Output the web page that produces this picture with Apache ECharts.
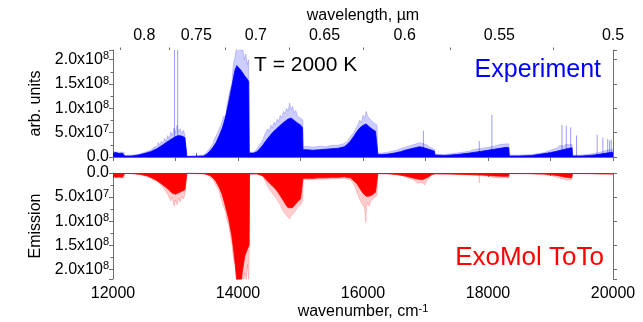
<!DOCTYPE html>
<html>
<head>
<meta charset="utf-8">
<script src="https://cdn.jsdelivr.net/npm/echarts@6/dist/echarts.min.js"></script>
<style>
  html, body { margin: 0; padding: 0; background: #fff; }
  #chart { width: 643px; height: 322px; }
</style>
</head>
<body>
<div id="chart"></div>
<script>
// all intensities in units of 1e6 (arb. units)
// experiment: solid part of the band envelope [wavenumber, value]
const expCore = [[12000,8],[12050,9],[12100,7],[12150,8],[12178,7],[12185,2],[12300,2],[12400,4],[12500,7],[12600,11],[12700,17],[12800,25],[12850,30],[12900,34],[12950,38],[13000,42],[13050,44],[13100,43],[13150,40],[13176,38],[13182,1],[13300,1],[13450,2],[13500,6],[13550,12],[13600,20],[13650,30],[13700,44],[13750,60],[13800,82],[13850,112],[13900,145],[13950,178],[13980,188],[14000,186],[14050,178],[14100,168],[14150,160],[14172,155],[14180,8],[14250,8],[14300,11],[14350,17],[14400,25],[14450,34],[14500,42],[14550,50],[14600,56],[14650,62],[14700,68],[14750,73],[14800,78],[14850,80],[14900,75],[14950,70],[15000,66],[15032,60],[15040,15],[15100,15],[15200,14],[15300,15],[15400,16],[15500,17],[15600,18],[15700,21],[15750,26],[15800,33],[15850,42],[15900,52],[15950,60],[16000,65],[16050,68],[16100,62],[16150,57],[16200,53],[16230,50],[16238,5],[16300,5],[16400,6],[16500,8],[16600,11],[16700,15],[16800,18],[16900,21],[16950,20],[17000,18],[17100,14],[17142,12],[17150,4],[17300,3],[17500,5],[17700,8],[17800,10],[17900,12],[18000,14],[18100,16],[18200,18],[18300,20],[18333,19],[18340,2],[18500,2],[18700,3],[18800,5],[18900,7],[19000,9],[19100,12],[19200,15],[19300,18],[19345,19],[19352,2],[19500,2],[19700,4],[19800,6],[19900,8],[20000,10]];
// experiment: upper fringe of the unresolved lines
const expPeak = [[12000,11],[12100,10],[12178,10],[12185,3],[12400,5],[12600,14],[12650,20],[12700,22],[12725,30],[12750,24],[12775,33],[12800,28],[12825,38],[12850,32],[12875,44],[12900,38],[12925,52],[12950,44],[12975,60],[13000,50],[13025,66],[13050,52],[13075,58],[13100,48],[13125,55],[13150,46],[13175,50],[13182,2],[13450,4],[13500,10],[13550,18],[13600,28],[13625,38],[13650,34],[13675,50],[13700,48],[13725,66],[13750,62],[13775,85],[13800,80],[13825,108],[13850,104],[13875,140],[13900,150],[13925,190],[13950,205],[13975,225],[14000,225],[14025,225],[14050,218],[14075,225],[14100,200],[14125,212],[14150,190],[14170,200],[14180,10],[14250,10],[14300,16],[14350,26],[14400,36],[14425,46],[14450,42],[14475,58],[14500,52],[14525,66],[14550,60],[14575,72],[14600,66],[14625,78],[14650,72],[14675,86],[14700,80],[14725,94],[14750,88],[14775,100],[14800,94],[14825,111],[14850,98],[14875,104],[14900,90],[14925,96],[14950,84],[14975,88],[15000,80],[15025,84],[15038,76],[15042,20],[15100,22],[15200,20],[15300,22],[15400,21],[15500,24],[15600,24],[15700,28],[15750,32],[15800,42],[15825,38],[15850,50],[15875,46],[15900,62],[15925,58],[15950,76],[15975,70],[16000,86],[16025,80],[16050,94],[16075,84],[16100,86],[16125,76],[16150,80],[16175,70],[16200,74],[16225,66],[16236,8],[16300,8],[16400,10],[16500,13],[16600,17],[16700,21],[16800,25],[16850,27],[16900,30],[16950,28],[17000,26],[17050,22],[17100,18],[17145,16],[17150,6],[17300,5],[17500,8],[17700,12],[17800,16],[17900,18],[18000,20],[18100,22],[18200,26],[18300,27],[18333,27],[18340,4],[18500,4],[18700,5],[18900,9],[19000,14],[19100,18],[19150,24],[19200,22],[19250,26],[19300,25],[19345,26],[19352,4],[19500,4],[19700,7],[19800,10],[19900,14],[20000,16]];
// experiment: isolated sharp lines
const expLines = [[12985,220],[13035,220],[16966,54],[17860,33],[18062,87],[19184,66],[19252,64],[19323,61],[19416,44],[19746,46],[19838,40],[19915,37],[19945,34],[19972,36]];

// ExoMol ToTo simulation
const calcCore = [[12000,7],[12050,9],[12100,8],[12150,9],[12178,8],[12185,1],[12300,1],[12450,3],[12550,6],[12650,12],[12750,20],[12850,30],[12900,36],[12950,42],[13000,44],[13050,41],[13100,38],[13150,35],[13176,33],[13182,0.5],[13300,0.5],[13450,1],[13550,5],[13600,10],[13650,18],[13700,30],[13750,46],[13800,70],[13850,95],[13900,130],[13930,160],[13960,195],[13980,222],[14000,225],[14050,225],[14070,205],[14090,188],[14110,172],[14150,158],[14178,150],[14184,2],[14300,1.5],[14400,6],[14450,14],[14500,20],[14550,27],[14600,33],[14650,42],[14700,52],[14750,63],[14800,72],[14830,76],[14870,72],[14900,68],[14950,60],[15000,54],[15032,50],[15040,11],[15100,11],[15200,11],[15300,10],[15400,10],[15500,9],[15600,9],[15700,8],[15800,10],[15850,16],[15900,22],[15950,32],[16000,42],[16050,48],[16100,48],[16150,45],[16200,40],[16230,36],[16238,1],[16400,1.5],[16550,3],[16700,7],[16850,12],[16950,14],[17050,8],[17090,4],[17150,1.5],[17400,2],[17700,3],[17900,4],[18100,6],[18250,7],[18330,7],[18340,1],[18600,1],[18900,2],[19100,5],[19250,9],[19340,10],[19352,1],[19600,1],[19800,1.5],[20000,2]];
const calcPeak = [[12000,9],[12100,10],[12180,10],[12185,1],[12400,2],[12600,10],[12650,15],[12700,14],[12725,20],[12750,18],[12775,26],[12800,24],[12825,34],[12850,30],[12875,44],[12900,40],[12925,58],[12950,50],[12975,69],[13000,56],[13025,66],[13050,52],[13075,60],[13100,48],[13125,54],[13150,45],[13175,48],[13182,1],[13500,3],[13550,8],[13600,14],[13625,20],[13650,24],[13675,32],[13700,38],[13725,52],[13750,56],[13775,72],[13800,80],[13825,100],[13850,106],[13875,130],[13900,145],[13925,175],[13950,190],[13975,225],[14000,225],[14060,225],[14075,215],[14090,225],[14110,207],[14130,225],[14150,190],[14170,225],[14180,160],[14184,2],[14350,3],[14400,8],[14425,14],[14450,18],[14475,28],[14500,26],[14525,38],[14550,34],[14575,46],[14600,42],[14625,55],[14650,52],[14675,66],[14700,62],[14725,80],[14750,76],[14775,88],[14800,86],[14825,95],[14850,88],[14875,92],[14900,82],[14925,86],[14950,72],[14975,76],[15000,66],[15025,70],[15036,58],[15042,12],[15100,14],[15300,13],[15500,12],[15700,11],[15800,14],[15850,22],[15875,30],[15900,32],[15925,48],[15950,46],[15975,62],[16000,58],[16025,72],[16045,103],[16055,70],[16075,62],[16100,69],[16125,58],[16150,62],[16175,52],[16200,55],[16225,46],[16236,2],[16400,2],[16600,5],[16700,9],[16800,14],[16875,21],[16950,20],[16985,25],[17020,16],[17080,8],[17100,2],[17400,3],[17800,5],[18000,7],[18120,10],[18250,10],[18330,11],[18340,1.5],[18700,2],[19000,5],[19200,12],[19270,15],[19340,14],[19352,1.5],[20000,3]];
const calcLines = [[17860,21]];

// top axis: wavelength ticks (µm)
const wlMajor = [0.8, 0.75, 0.7, 0.65, 0.6, 0.55, 0.5];
const wlMinor = [0.825, 0.775, 0.725, 0.675, 0.625, 0.575, 0.525];

const font = 'Liberation Sans, Arial, sans-serif';
const axisGray = '#6e6e6e';

function sci(v) {
  if (v === 0) return '0.0';
  if (v % 50 !== 0 || v > 200) return '';
  let real = v * 1e6;
  let exp = Math.floor(Math.log10(real));
  let mant = (real / Math.pow(10, exp)).toFixed(1);
  return '{m|' + mant + 'x10}{e|' + exp + '}';
}
const sciRich = {
  m: { fontSize: 16, fontFamily: font, color: '#000' },
  e: { fontSize: 11, fontFamily: font, color: '#000', verticalAlign: 'top', padding: [0, 0, 7, 0] }
};

let chart = echarts.init(document.getElementById('chart'));

function yAx(grid, inverse, name) {
  return {
    type: 'value', gridIndex: grid, position: 'left', inverse: inverse,
    min: 0, max: 220, interval: 50,
    name: name, nameLocation: 'middle', nameGap: 67,
    nameTextStyle: { fontSize: 16, fontFamily: font, color: '#000' },
    axisLine: { show: true, lineStyle: { color: axisGray } },
    axisTick: { show: true, length: 4, lineStyle: { color: axisGray } },
    minorTick: { show: true, splitNumber: 2, length: 2.5, lineStyle: { color: axisGray } },
    axisLabel: { margin: 4, showMaxLabel: false, formatter: sci, rich: sciRich, fontSize: 16, fontFamily: font, color: '#000' },
    splitLine: { show: false }, minorSplitLine: { show: false }
  };
}
function yRight(grid, inverse) {
  return {
    type: 'value', gridIndex: grid, position: 'right', inverse: inverse,
    min: 0, max: 220, interval: 50,
    axisLine: { show: true, lineStyle: { color: axisGray } },
    axisTick: { show: true, length: 4, lineStyle: { color: axisGray } },
    axisLabel: { show: false, showMaxLabel: false },
    splitLine: { show: false }
  };
}

let option = {
  animation: false,
  textStyle: { fontFamily: font },
  grid: [
    { left: 113, right: 30, top: 50, height: 107 },
    { left: 113, right: 30, top: 173, height: 106 }
  ],
  xAxis: [
    {
      type: 'value', gridIndex: 0, position: 'bottom', min: 12000, max: 20000, interval: 1000,
      axisLine: { lineStyle: { color: axisGray } },
      axisTick: { length: 4, lineStyle: { color: axisGray } },
      axisLabel: { show: false }, splitLine: { show: false }
    },
    {
      type: 'value', gridIndex: 0, position: 'top', min: 12000, max: 20000,
      name: 'wavelength, µm', nameLocation: 'middle', nameGap: 26,
      nameTextStyle: { fontSize: 16, fontFamily: font, color: '#000' },
      axisLine: { lineStyle: { color: axisGray } },
      axisTick: { length: 4, customValues: wlMajor.map(l => 1e4 / l), lineStyle: { color: axisGray } },
      axisLabel: {
        customValues: wlMajor.map(l => 1e4 / l), margin: 6,
        formatter: v => String(+(1e4 / v).toFixed(3)),
        fontSize: 16, fontFamily: font, color: '#000'
      },
      splitLine: { show: false }
    },
    {
      type: 'value', gridIndex: 0, position: 'top', min: 12000, max: 20000,
      axisLine: { show: false },
      axisTick: { length: 2.5, customValues: wlMinor.map(l => 1e4 / l), lineStyle: { color: axisGray } },
      axisLabel: { show: false }, splitLine: { show: false }
    },
    {
      type: 'value', gridIndex: 1, position: 'bottom', min: 12000, max: 20000, interval: 2000,
      name: 'wavenumber, cm{s|-1}', nameLocation: 'middle', nameGap: 24,
      nameTextStyle: {
        fontSize: 16, fontFamily: font, color: '#000',
        rich: { s: { fontSize: 11, fontFamily: font, color: '#000', verticalAlign: 'top', padding: [0, 0, 7, 0] } }
      },
      axisLine: { lineStyle: { color: axisGray } },
      axisTick: { length: 4, lineStyle: { color: axisGray } },
      minorTick: { show: true, splitNumber: 2, length: 3, lineStyle: { color: axisGray } },
      axisLabel: { margin: 7, formatter: v => String(v), fontSize: 16, fontFamily: font, color: '#000' },
      splitLine: { show: false }, minorSplitLine: { show: false }
    }
  ],
  yAxis: [
    yAx(0, false, 'arb. units'),
    yRight(0, false),
    yAx(1, true, 'Emission'),
    yRight(1, true)
  ],
  graphic: [
    { type: 'text', x: 254, y: 65, style: { text: 'T = 2000 K', font: '21px ' + font, fill: '#000', verticalAlign: 'middle' } },
    { type: 'text', x: 601, y: 70, style: { text: 'Experiment', font: '25px ' + font, fill: '#0000ff', align: 'right', verticalAlign: 'middle' } },
    { type: 'text', x: 604, y: 258, style: { text: 'ExoMol ToTo', font: '26px ' + font, fill: '#ff0000', align: 'right', verticalAlign: 'middle' } }
  ],
  series: [
    {
      name: 'Experiment fringe', type: 'line', xAxisIndex: 0, yAxisIndex: 0, data: expPeak,
      showSymbol: false, clip: true, z: 1,
      lineStyle: { width: 0.6, color: 'rgba(0,0,255,0.3)' },
      areaStyle: { color: 'rgba(0,0,255,0.28)' }
    },
    {
      name: 'Experiment lines', type: 'bar', xAxisIndex: 0, yAxisIndex: 0, data: expLines,
      barWidth: 1, clip: true, z: 2,
      itemStyle: { color: 'rgba(0,0,255,0.4)' }
    },
    {
      name: 'Experiment', type: 'line', xAxisIndex: 0, yAxisIndex: 0, data: expCore,
      showSymbol: false, clip: true, z: 3,
      lineStyle: { width: 0.8, color: '#0000ff' },
      areaStyle: { color: '#0000ff', opacity: 1 }
    },
    {
      name: 'ToTo fringe', type: 'line', xAxisIndex: 3, yAxisIndex: 2, data: calcPeak,
      showSymbol: false, clip: true, z: 1,
      lineStyle: { width: 0.6, color: 'rgba(255,0,0,0.3)' },
      areaStyle: { color: 'rgba(255,0,0,0.28)' }
    },
    {
      name: 'ToTo lines', type: 'bar', xAxisIndex: 3, yAxisIndex: 2, data: calcLines,
      barWidth: 1, clip: true, z: 2,
      itemStyle: { color: 'rgba(255,0,0,0.35)' }
    },
    {
      name: 'ExoMol ToTo', type: 'line', xAxisIndex: 3, yAxisIndex: 2, data: calcCore,
      showSymbol: false, clip: true, z: 3,
      lineStyle: { width: 0.8, color: '#ff0000' },
      areaStyle: { color: '#ff0000', opacity: 1 }
    }
  ]
};
chart.setOption(option);
</script>
</body>
</html>
